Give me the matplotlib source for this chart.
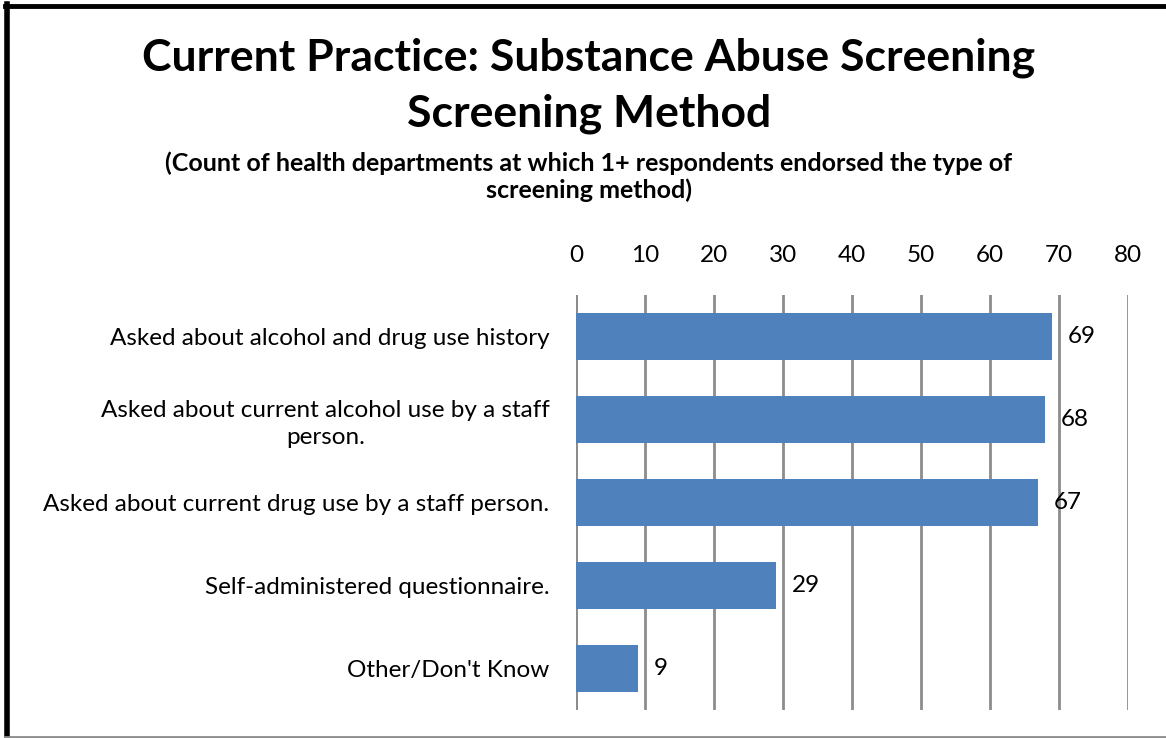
import matplotlib.pyplot as plt
from matplotlib.lines import Line2D

plt.rcParams["font.family"] = ["Lato", "DejaVu Sans"]

categories = [
    "Asked about alcohol and drug use history",
    "Asked about current alcohol use by a staff\nperson.",
    "Asked about current drug use by a staff person.",
    "Self-administered questionnaire.",
    "Other/Don't Know",
]
counts = [69, 68, 67, 29, 9]
x_ticks = [0, 10, 20, 30, 40, 50, 60, 70, 80]

title = "Current Practice: Substance Abuse Screening\nScreening Method"
subtitle = ("(Count of health departments at which 1+ respondents endorsed the type of\n"
            "screening method)")

BAR_COLOR = "#4F81BD"
GRID_COLOR = "#8C8C8C"
LABEL_SIZE = 17.5

fig = plt.figure(figsize=(11.66, 7.38), dpi=100)
ax = fig.add_axes([0.494, 0.038, 0.4734, 0.5623])

y = range(len(categories))
bars = ax.barh(y, counts, height=0.57, color=BAR_COLOR, zorder=3)

for bar, v in zip(bars, counts):
    ax.annotate(str(v), (bar.get_width(), bar.get_y() + bar.get_height() / 2),
                xytext=(11, 0), textcoords="offset points",
                va="center", ha="left", fontsize=LABEL_SIZE, zorder=4)

ax.set_xlim(0, 80)
ax.set_ylim(len(categories) - 0.5, -0.5)
ax.set_xticks(x_ticks)
ax.xaxis.tick_top()
ax.tick_params(axis="x", length=0, pad=21, labelsize=LABEL_SIZE)
ax.tick_params(axis="y", length=0, pad=19, labelsize=LABEL_SIZE)
ax.set_yticks(list(y))
ax.set_yticklabels(categories, ha="right", multialignment="center",
                   linespacing=1.3)

ax.grid(axis="x", color=GRID_COLOR, linewidth=2, zorder=0)
for s in ax.spines.values():
    s.set_visible(False)
ax.axvline(0, color=GRID_COLOR, linewidth=2, zorder=2)

fig.text(0.505, 0.884, title, ha="center", va="center", fontsize=32,
         fontweight="bold", linespacing=1.48)
fig.text(0.505, 0.761, subtitle, ha="center", va="center", fontsize=18,
         fontweight="bold", linespacing=1.17)

# outer frame: heavy black left/top, thin gray bottom
fig.add_artist(Line2D([0.0064, 0.0064], [0, 0.995], color="black", linewidth=4,
                      transform=fig.transFigure))
fig.add_artist(Line2D([0.004, 1.0], [0.9925, 0.9925], color="black", linewidth=3.5,
                      transform=fig.transFigure))
fig.add_artist(Line2D([0.004, 1.0], [0.002, 0.002], color=GRID_COLOR, linewidth=2,
                      transform=fig.transFigure))

fig.savefig("out.png", dpi=100)
